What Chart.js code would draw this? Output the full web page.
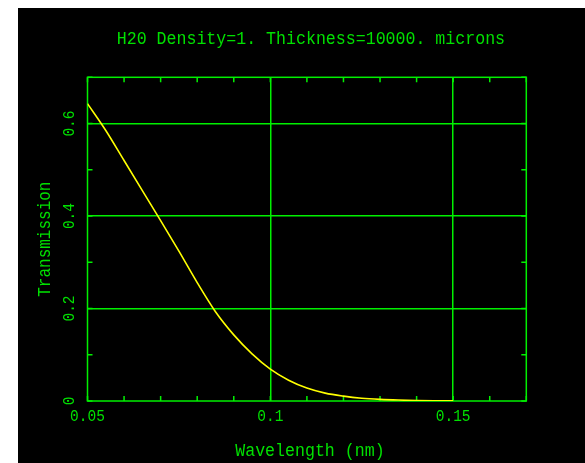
<!DOCTYPE html>
<html>
<head>
<meta charset="utf-8">
<script src="https://cdn.jsdelivr.net/npm/chart.js@4"></script>
<style>
  html, body { margin: 0; padding: 0; background: #fff; }
  #wrap { position: absolute; left: 18px; top: 8px; width: 567px; height: 455px; background: #000; }
</style>
</head>
<body>
<div id="wrap"><canvas id="plot" width="567" height="455"></canvas></div>
<script>
// wavelength (nm) and transmission
const wavelengths = [0.05, 0.055, 0.06, 0.065, 0.07, 0.075, 0.08, 0.085, 0.09, 0.095, 0.1,
                     0.105, 0.11, 0.115, 0.12, 0.125, 0.13, 0.135, 0.14, 0.145, 0.15];
const transmission = [0.643, 0.585, 0.52, 0.455, 0.39, 0.324, 0.256, 0.193, 0.143, 0.102, 0.069,
                      0.045, 0.028, 0.017, 0.0105, 0.006, 0.0035, 0.002, 0.0011, 0.0006, 0.0003];

const xTickValues = [0.05, 0.1, 0.15];
const xTickLabels = ['0.05', '0.1', '0.15'];
const yTickValues = [0, 0.2, 0.4, 0.6];
const yTickLabels = ['0', '0.2', '0.4', '0.6'];

const titleText = 'H20 Density=1. Thickness=10000. microns';
const xTitle = 'Wavelength (nm)';
const yTitle = 'Transmission';

const green = '#00e000';
const lineGreen = '#00f000';
const yellow = '#ffff00';
const fontFamily = '"Liberation Mono", "DejaVu Sans Mono", monospace';

// text looks like a tall Hershey font, so stretch it a bit vertically
function drawText(ctx, text, x, y, size, rotate) {
    ctx.save();
    ctx.translate(x, y);
    if (rotate) ctx.rotate(-Math.PI / 2);
    ctx.scale(1, 1.15);
    ctx.font = size + 'px ' + fontFamily;
    ctx.fillStyle = green;
    ctx.textAlign = 'center';
    ctx.textBaseline = 'middle';
    ctx.fillText(text, 0, 0);
    ctx.restore();
}

const frameAndLabels = {
    id: 'frameAndLabels',
    beforeDatasetsDraw(chart) {
        const ctx = chart.ctx;
        const a = chart.chartArea;
        const xs = chart.scales.x;
        const ys = chart.scales.y;
        ctx.save();
        ctx.strokeStyle = lineGreen;
        ctx.lineWidth = 1.5;
        ctx.strokeRect(a.left, a.top, a.right - a.left, a.bottom - a.top);

        // small inward ticks every 0.01 / 0.1
        ctx.beginPath();
        xs.ticks.forEach(t => {
            const px = xs.getPixelForValue(t.value);
            ctx.moveTo(px, a.bottom); ctx.lineTo(px, a.bottom - 5);
            ctx.moveTo(px, a.top); ctx.lineTo(px, a.top + 5);
        });
        ys.ticks.forEach(t => {
            const py = ys.getPixelForValue(t.value);
            ctx.moveTo(a.left, py); ctx.lineTo(a.left + 5, py);
            ctx.moveTo(a.right, py); ctx.lineTo(a.right - 5, py);
        });
        ctx.stroke();
        ctx.restore();
    },
    afterDraw(chart) {
        const ctx = chart.ctx;
        const a = chart.chartArea;
        const xs = chart.scales.x;
        const ys = chart.scales.y;

        xTickValues.forEach((v, i) => {
            drawText(ctx, xTickLabels[i], xs.getPixelForValue(v), a.bottom + 16, 14.5, false);
        });
        yTickValues.forEach((v, i) => {
            drawText(ctx, yTickLabels[i], a.left - 18, ys.getPixelForValue(v), 14.5, true);
        });

        drawText(ctx, titleText, (a.left + a.right) / 2 + 4, 30.5, 16.6, false);
        drawText(ctx, xTitle, (a.left + a.right) / 2 + 3, a.bottom + 50, 16.6, false);
        drawText(ctx, yTitle, 27, (a.top + a.bottom) / 2, 16, true);
    }
};

new Chart(document.getElementById('plot'), {
    type: 'line',
    data: {
        labels: wavelengths,
        datasets: [{
            data: wavelengths.map((w, i) => ({ x: w, y: transmission[i] })),
            borderColor: yellow,
            borderWidth: 1.6,
            pointRadius: 0,
            fill: false,
            cubicInterpolationMode: 'monotone'
        }]
    },
    options: {
        responsive: false,
        animation: false,
        devicePixelRatio: 1,
        layout: { padding: { top: 69.3, right: 58.7, left: 0, bottom: 0 } },
        plugins: { legend: { display: false }, tooltip: { enabled: false } },
        scales: {
            x: {
                type: 'linear',
                min: 0.05,
                max: 0.17,
                afterFit: s => { s.height = 62; },
                ticks: { display: false, stepSize: 0.01 },
                border: { display: false },
                grid: {
                    drawTicks: false,
                    lineWidth: 1.5,
                    color: c => {
                        const v = Math.round(c.tick.value * 100);
                        return (v === 10 || v === 15) ? lineGreen : 'transparent';
                    }
                }
            },
            y: {
                min: 0,
                max: 0.7,
                afterFit: s => { s.width = 69.5; },
                ticks: { display: false, stepSize: 0.1 },
                border: { display: false },
                grid: {
                    drawTicks: false,
                    lineWidth: 1.5,
                    color: c => {
                        const v = Math.round(c.tick.value * 10);
                        return (v === 2 || v === 4 || v === 6) ? lineGreen : 'transparent';
                    }
                }
            }
        }
    },
    plugins: [frameAndLabels]
});
</script>
</body>
</html>
